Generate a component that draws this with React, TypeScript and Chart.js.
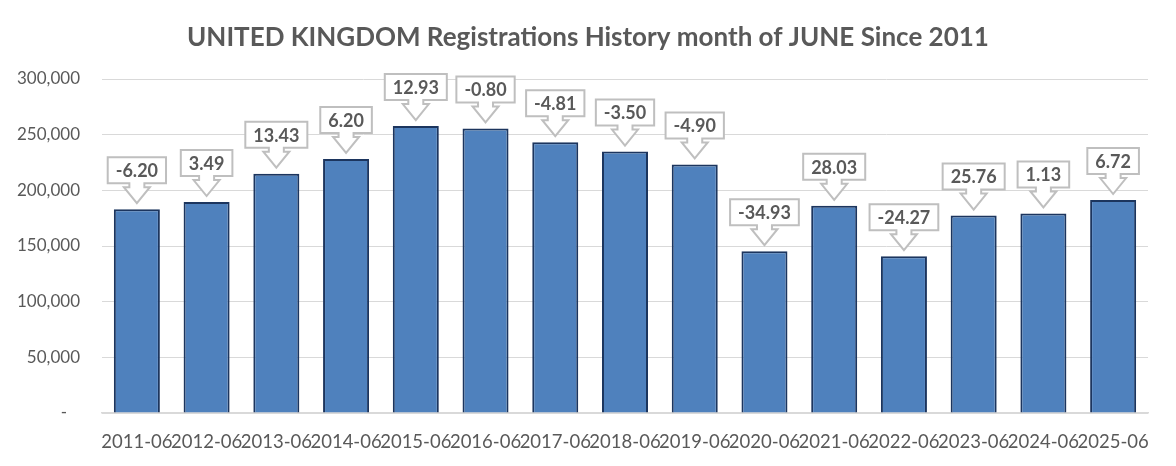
import React, { useEffect, useRef } from "react";
import { Chart, registerables } from "chart.js";

Chart.register(...registerables);

const titleText = "UNITED KINGDOM Registrations History month of JUNE Since 2011";
const categories = [
  "2011-06", "2012-06", "2013-06", "2014-06", "2015-06",
  "2016-06", "2017-06", "2018-06", "2019-06", "2020-06",
  "2021-06", "2022-06", "2023-06", "2024-06", "2025-06",
];
const registrations = [
  183100, 189500, 214900, 228200, 257700,
  255600, 243300, 234800, 223300, 145300,
  186100, 140900, 177300, 179300, 191300,
];
const changes = [
  "-6.20", "3.49", "13.43", "6.20", "12.93",
  "-0.80", "-4.81", "-3.50", "-4.90", "-34.93",
  "28.03", "-24.27", "25.76", "1.13", "6.72",
];
const yMin = 0;
const yMax = 300000;
const yStep = 50000;

const FONT = "Lato, 'Open Sans', sans-serif";
const TEXT = "#595959";

const titlePlugin = {
  id: "customTitle",
  afterDraw(chart: any) {
    const ctx = chart.ctx;
    ctx.save();
    ctx.font = `bold 26px ${FONT}`;
    ctx.fillStyle = TEXT;
    ctx.textAlign = "center";
    ctx.textBaseline = "middle";
    ctx.fillText(titleText, chart.width / 2, 38);
    ctx.restore();
  },
};

const calloutPlugin = {
  id: "callouts",
  afterDatasetsDraw(chart: any) {
    const ctx = chart.ctx;
    const meta = chart.getDatasetMeta(0);
    ctx.save();
    ctx.font = `bold 18px ${FONT}`;
    meta.data.forEach((bar: any, i: number) => {
      const text = changes[i];
      const x = bar.x;
      const tipY = bar.y - 6;
      const headH = 16, stemH = 4, boxH = 26;
      const headHW = 13, stemHW = 7.5;
      const tw = ctx.measureText(text).width;
      const boxHW = tw / 2 + 8;
      const boxBottom = tipY - headH - stemH;
      const boxTop = boxBottom - boxH;
      ctx.beginPath();
      ctx.moveTo(x - boxHW, boxTop);
      ctx.lineTo(x + boxHW, boxTop);
      ctx.lineTo(x + boxHW, boxBottom);
      ctx.lineTo(x + stemHW, boxBottom);
      ctx.lineTo(x + stemHW, boxBottom + stemH);
      ctx.lineTo(x + headHW, boxBottom + stemH);
      ctx.lineTo(x, tipY);
      ctx.lineTo(x - headHW, boxBottom + stemH);
      ctx.lineTo(x - stemHW, boxBottom + stemH);
      ctx.lineTo(x - stemHW, boxBottom);
      ctx.lineTo(x - boxHW, boxBottom);
      ctx.closePath();
      ctx.fillStyle = "#ffffff";
      ctx.fill();
      ctx.strokeStyle = "#bfbfbf";
      ctx.lineWidth = 2;
      ctx.lineJoin = "miter";
      ctx.stroke();
      ctx.fillStyle = TEXT;
      ctx.textAlign = "center";
      ctx.textBaseline = "middle";
      ctx.fillText(text, x, (boxTop + boxBottom) / 2 + 1);
    });
    ctx.restore();
  },
};

export default function App() {
  const ref = useRef<HTMLCanvasElement | null>(null);

  useEffect(() => {
    document.body.style.margin = "0";
    const canvas = ref.current;
    if (!canvas) return;
    const chart = new Chart(canvas, {
      type: "bar",
      data: {
        labels: categories,
        datasets: [
          {
            data: registrations,
            backgroundColor: "#4f81bd",
            borderColor: "#1c355e",
            borderWidth: 2,
            categoryPercentage: 1,
            barPercentage: 0.66,
          },
        ],
      },
      options: {
        animation: false,
        responsive: true,
        maintainAspectRatio: false,
        layout: { padding: { top: 79, right: 28, left: 0, bottom: 0 } },
        plugins: {
          legend: { display: false },
          title: { display: false },
          tooltip: { enabled: false },
        },
        scales: {
          x: {
            grid: { display: false, drawTicks: false },
            border: { display: true, color: "#d9d9d9", width: 1.5 },
            ticks: {
              color: TEXT,
              font: { family: FONT, size: 18.5 },
              padding: 18,
              maxRotation: 0,
              autoSkip: false,
            },
            afterFit: (s: any) => {
              s.height = 53;
            },
          },
          y: {
            min: yMin,
            max: yMax,
            grid: { color: "#d9d9d9", drawTicks: false, lineWidth: 1 },
            border: { display: false },
            ticks: {
              stepSize: yStep,
              color: TEXT,
              font: { family: FONT, size: 17 },
              padding: 22,
              callback: (v: any) => (Number(v) === 0 ? "-   " : Number(v).toLocaleString("en-US")),
            },
            afterFit: (s: any) => {
              s.width = 102;
            },
          },
        },
      },
      plugins: [titlePlugin, calloutPlugin],
    });
    return () => chart.destroy();
  }, []);

  return (
    <div style={{ width: 1176, height: 466, position: "relative", background: "#fff" }}>
      <canvas ref={ref} />
    </div>
  );
}
